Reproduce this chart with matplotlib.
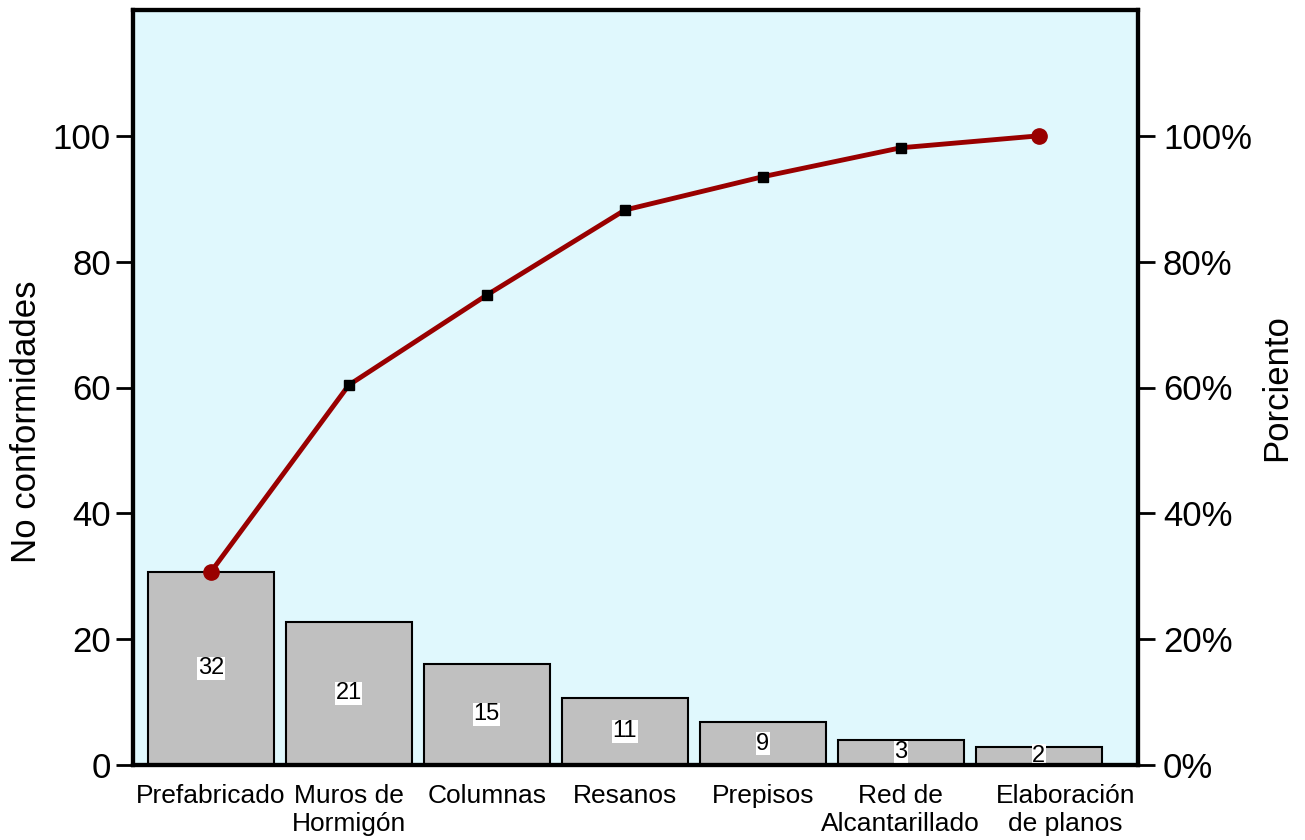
import numpy as np
import matplotlib.pyplot as plt
import matplotlib.transforms as mtransforms
from matplotlib.ticker import FuncFormatter

plt.rcParams['font.family'] = ['Liberation Sans', 'DejaVu Sans']

# datos
categorias = ['Prefabricado', 'Muros de\nHormigón', 'Columnas', 'Resanos',
              'Prepisos', 'Red de\nAlcantarillado', 'Elaboración\nde planos']
alturas = [30.7, 22.8, 16.1, 10.7, 6.8, 4.0, 2.9]
etiquetas = ['32', '21', '15', '11', '9', '3', '2']
acumulado = [30.7, 60.4, 74.7, 88.2, 93.5, 98.1, 100.0]

fig = plt.figure(figsize=(13.05, 8.4), dpi=100)
ax = fig.add_axes([133/1305, 75/840, (1138-133)/1305, (830-75)/840])
ax.set_facecolor('#e0f8fd')

x = np.arange(len(categorias))
ax.bar(x, alturas, width=0.915, color='#c0c0c0', edgecolor='black', linewidth=1.5, zorder=2)
for xi, h, t in zip(x, alturas, etiquetas):
    ax.text(xi, h / 2, t, ha='center', va='center', fontsize=17, zorder=4,
            bbox=dict(facecolor='white', edgecolor='none', pad=0.3))

ax.set_xlim(-0.565, 6.72)
ax.set_ylim(0, 120)
ax.set_yticks([0, 20, 40, 60, 80, 100])
ax.set_xticks(x)
ax.set_xticklabels(categorias, fontsize=19, linespacing=1.2)
ax.tick_params(axis='x', length=0, pad=14)
ax.tick_params(axis='y', labelsize=25, length=12, width=2, pad=4)
ax.set_ylabel('No conformidades', fontsize=25)
ax.yaxis.set_label_coords(-0.09, 0.454)

# la ultima etiqueta va algo corrida a la derecha
ultima = ax.get_xticklabels()[-1]
ultima.set_transform(ultima.get_transform() + mtransforms.ScaledTranslation(0.27, 0, fig.dpi_scale_trans))

ax2 = ax.twinx()
ax2.set_ylim(0, 120)
ax2.set_yticks([0, 20, 40, 60, 80, 100])
ax2.yaxis.set_major_formatter(FuncFormatter(lambda v, p: f'{int(v)}%'))
ax2.tick_params(axis='y', labelsize=25, length=12, width=2, pad=6)
ax2.set_ylabel('Porciento', fontsize=25)
ax2.yaxis.set_label_coords(1.122, 0.5)

ax2.plot(x, acumulado, color='#990000', linewidth=3.5, zorder=3)
ax2.plot(x[1:-1], acumulado[1:-1], 's', color='black', markersize=7, zorder=4)
ax2.plot([x[0], x[-1]], [acumulado[0], acumulado[-1]], 'o', color='#990000', markersize=11, zorder=4)

for a in (ax, ax2):
    for s in a.spines.values():
        s.set_linewidth(3)

fig.savefig('out.png', dpi=100)
